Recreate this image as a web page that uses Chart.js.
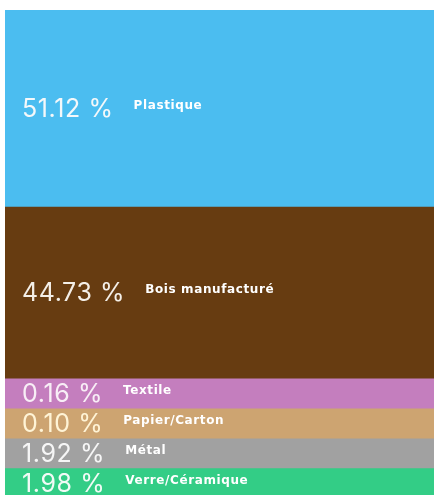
<!DOCTYPE html>
<html>
<head>
<meta charset="utf-8">
<script src="https://cdn.jsdelivr.net/npm/chart.js@4"></script>
<style>
  html, body { margin: 0; padding: 0; background: #fff; overflow: hidden; }
  #wrap { width: 434px; height: 495px; overflow: hidden; }
</style>
</head>
<body>
<div id="wrap"><canvas id="matChart" width="434" height="500"></canvas></div>
<script>
// materials, top to bottom
const materials = ['Plastique', 'Bois manufacturé', 'Textile', 'Papier/Carton', 'Métal', 'Verre/Céramique'];
const shares = [51.12, 44.73, 0.16, 0.10, 1.92, 1.98];
const colors = ['#4bbdf0', '#673c11', '#c47ebe', '#cda471', '#a1a1a1', '#33cd86'];
const pctColors = ['#f4f8fa', '#f4efe8', '#f8eef6', '#fff4d6', '#f6f6f6', '#f2fbf6'];

// small segments get a minimum visible height
const minShare = 7.8;
const shown = shares.map(v => Math.max(v, minShare));
const total = shown.reduce((a, b) => a + b, 0);

const labelPlugin = {
    id: 'segLabels',
    afterDatasetsDraw(chart) {
        const ctx = chart.ctx;
        const left = chart.chartArea.left;
        ctx.save();
        ctx.textBaseline = 'middle';
        ctx.textAlign = 'left';
        chart.data.datasets.forEach((ds, i) => {
            const bar = chart.getDatasetMeta(i).data[0];
            const cy = (bar.y + bar.base) / 2;
            const pct = shares[i].toFixed(2) + ' %';
            ctx.letterSpacing = '0.6px';
            ctx.font = '400 25px Inter';
            ctx.fillStyle = pctColors[i];
            ctx.fillText(pct, left + 17, cy + 1);
            const w = ctx.measureText(pct).width;
            ctx.letterSpacing = '0.6px';
            ctx.font = 'bold 12px "DejaVu Sans"';
            ctx.fillStyle = '#ffffff';
            ctx.fillText(materials[i], left + 17 + w + 20, cy - 2);
        });
        ctx.restore();
    }
};

new Chart(document.getElementById('matChart'), {
    type: 'bar',
    data: {
        labels: ['Matériaux'],
        datasets: materials.map((m, i) => ({
            label: m,
            data: [shown[i]],
            backgroundColor: colors[i],
            borderWidth: 0,
            barPercentage: 1,
            categoryPercentage: 1
        }))
    },
    options: {
        responsive: false,
        animation: false,
        layout: { padding: { top: 10, left: 5, right: 0, bottom: 2 } },
        plugins: {
            legend: { display: false },
            tooltip: { enabled: false }
        },
        scales: {
            x: { stacked: true, display: false },
            y: { stacked: true, display: false, reverse: true, min: 0, max: total }
        }
    },
    plugins: [labelPlugin]
});
</script>
</body>
</html>
